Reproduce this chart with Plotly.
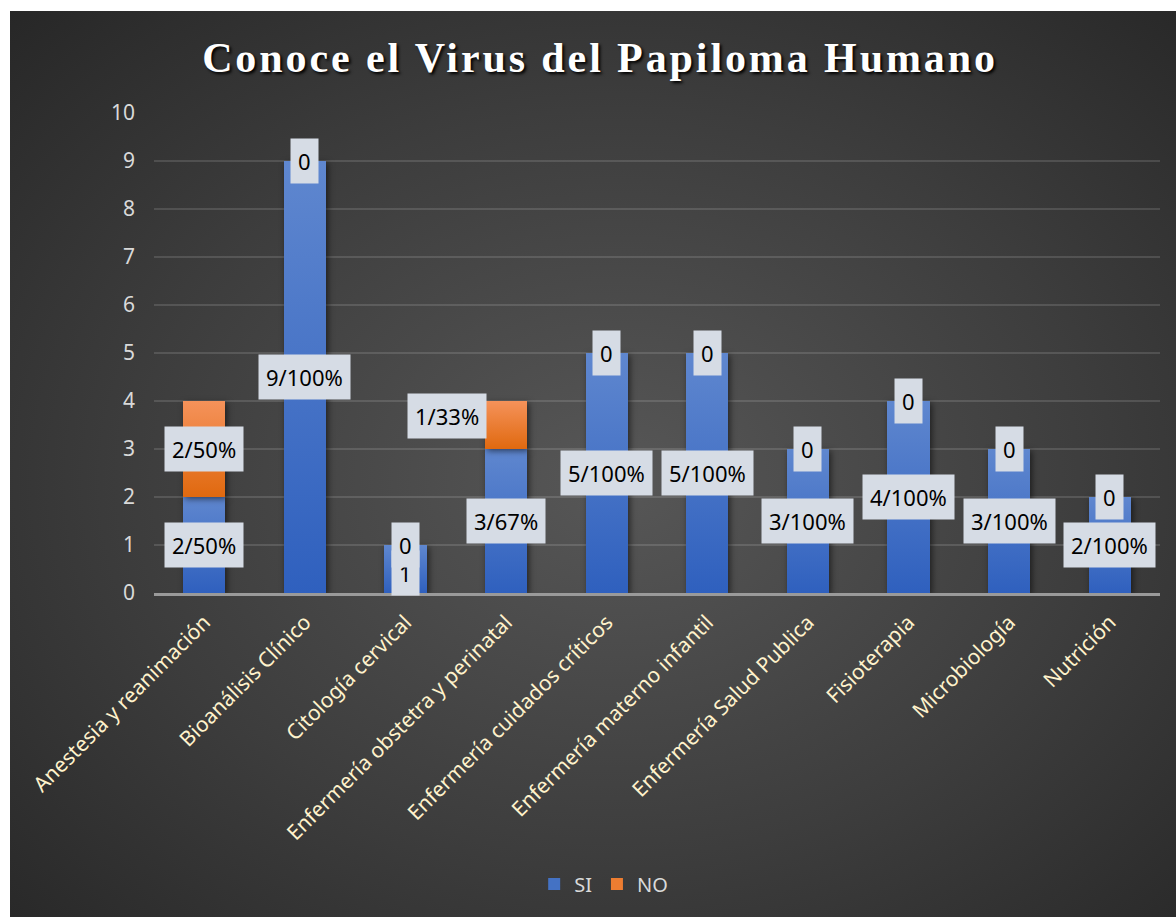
import plotly.graph_objects as go

categories = ["Anestesia y reanimación", "Bioanálisis Clínico", "Citología cervical",
              "Enfermería obstetra y perinatal", "Enfermería cuidados críticos",
              "Enfermería materno infantil", "Enfermería Salud Publica", "Fisioterapia",
              "Microbiología", "Nutrición"]
si_values = [2, 9, 1, 3, 5, 5, 3, 4, 3, 2]
no_values = [2, 0, 0, 1, 0, 0, 0, 0, 0, 0]
si_labels = ["2/50%", "9/100%", "1", "3/67%", "5/100%", "5/100%", "3/100%", "4/100%", "3/100%", "2/100%"]
no_labels = ["2/50%", "0", "0", "1/33%", "0", "0", "0", "0", "0", "0"]
y_ticks = [0, 1, 2, 3, 4, 5, 6, 7, 8, 9, 10]

FONT = "Noto Sans"

fig = go.Figure()
fig.add_trace(go.Bar(name="SI", x=categories, y=si_values, marker=dict(color="#4472c4", line=dict(width=0))))
fig.add_trace(go.Bar(name="NO", x=categories, y=no_values, marker=dict(color="#ed7d31", line=dict(width=0))))

no_ann = []
si_ann = []
for i, c in enumerate(categories):
    sys_ = -4 if categories[i] == "Citología cervical" else 0
    si_ann.append(dict(x=c, y=si_values[i] / 2, text=si_labels[i], showarrow=False,
                       xref="x", yref="y", bgcolor="#d6dce5", borderpad=7, yshift=sys_,
                       font=dict(family=FONT, size=22, color="#000000")))
    xs, ys = 0, 0
    if categories[i] == "Enfermería obstetra y perinatal":
        xs, ys = -59, 9
    no_ann.append(dict(x=c, y=si_values[i] + no_values[i] / 2, text=no_labels[i], showarrow=False,
                       xref="x", yref="y", bgcolor="#d6dce5", borderpad=7, xshift=xs, yshift=ys,
                       font=dict(family=FONT, size=22, color="#000000")))

fig.update_layout(
    width=1166, height=906,
    margin=dict(l=144, r=16, t=102, b=324),
    paper_bgcolor="rgba(0,0,0,0)", plot_bgcolor="rgba(0,0,0,0)",
    barmode="stack", bargap=0.58,
    title=dict(text="<b>Conoce el Virus del Papiloma Humano</b>", x=0.506, xref="container", xanchor="center",
               y=0.949, yref="container", yanchor="middle",
               font=dict(family="Liberation Serif", size=42, color="#ffffff", shadow="2px 2px 3px #000000")),
    xaxis=dict(tickangle=-45, tickfont=dict(family=FONT, size=21, color="#fff2cc"), showgrid=False,
               showline=True, linecolor="#9a9a9a", linewidth=2.5, ticks="", ticklabelstandoff=6),
    yaxis=dict(range=[0, 10], tickvals=y_ticks, tickfont=dict(family=FONT, size=21, color="#d9d9d9"),
               showgrid=True, gridcolor="rgba(255,255,255,0.13)", gridwidth=1.5, zeroline=False,
               ticks="", ticklabelstandoff=18, showline=False),
    legend=dict(orientation="h", x=0.447, xanchor="center", y=-0.606, yanchor="middle",
                font=dict(family=FONT, size=20, color="#d9d9d9"), itemwidth=30, traceorder="normal"),
    annotations=si_ann + no_ann,
)

post = """
document.body.style.margin='11px 0 0 10px';
document.body.style.overflow='hidden';
var gd=document.getElementById('{plot_id}');
gd.style.background='radial-gradient(ellipse 75% 75% at 52% 52%, #575757 0%, #3d3d3d 55%, #262626 100%)';
var svg=gd.querySelector('svg.main-svg');
var ns='http://www.w3.org/2000/svg';
var defs=svg.querySelector('defs');
function grad(id,c1,c2){var g=document.createElementNS(ns,'linearGradient');g.setAttribute('id',id);
 g.setAttribute('x1','0');g.setAttribute('y1','0');g.setAttribute('x2','0');g.setAttribute('y2','1');
 [[0,c1],[1,c2]].forEach(function(s){var st=document.createElementNS(ns,'stop');st.setAttribute('offset',s[0]);st.setAttribute('stop-color',s[1]);g.appendChild(st);});
 defs.appendChild(g);}
grad('gSI','#5f87cf','#2f60be');grad('gNO','#f5925a','#e0690f');
var traces=gd.querySelectorAll('.barlayer .trace');
var ids=['gSI','gNO'];
traces.forEach(function(t,k){t.querySelectorAll('path').forEach(function(p){p.style.fill='url(#'+ids[k]+')';p.style.filter='drop-shadow(2px 2px 3px rgba(0,0,0,0.55))';});});
var tt=gd.querySelector('.gtitle'); if(tt){tt.style.letterSpacing='2.9px';}
"""

fig.write_html("out.html", post_script=post)
